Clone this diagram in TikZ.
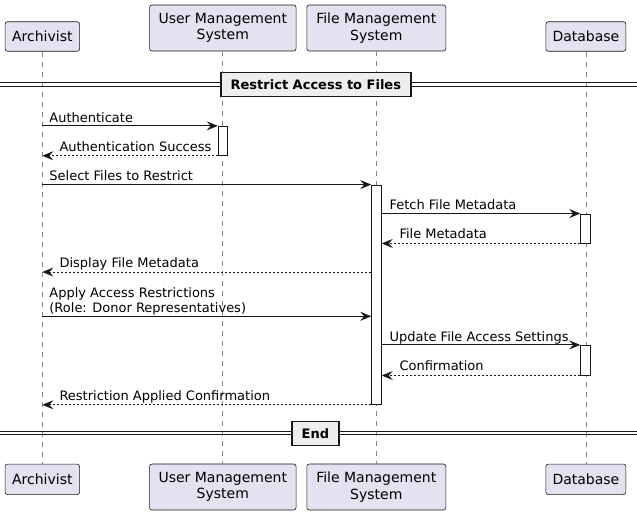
\documentclass[tikz,border=0pt]{standalone}
\usepackage{fontspec}
\setmainfont{DejaVu Sans}
\usetikzlibrary{arrows.meta}
\definecolor{partfill}{HTML}{E2E2F0}
\definecolor{partdraw}{HTML}{181818}
\definecolor{lifecol}{HTML}{858585}
\definecolor{divfill}{HTML}{EEEEEE}
\begin{document}
\begin{tikzpicture}[x=1pt,y=-1pt,
  font=\fontsize{13}{15}\selectfont,
  part/.style={draw=partdraw, fill=partfill, line width=0.6pt, rounded corners=2.5pt,
    align=center, inner sep=0pt, minimum height=29.5pt, font=\fontsize{14}{16.3}\selectfont},
  parttall/.style={part, minimum height=46pt},
  life/.style={draw=lifecol, line width=0.7pt, dash pattern=on 5pt off 5pt},
  actbox/.style={draw=partdraw, fill=white, line width=0.9pt, minimum width=9.6pt, inner sep=0pt},
  msg/.style={draw=partdraw, line width=0.9pt, -{Stealth[length=11pt, width=9pt, inset=4pt]}},
  ret/.style={msg, dash pattern=on 2pt off 2pt},
  lbl/.style={inner sep=0pt, anchor=base west, align=left},
  divline/.style={draw=partdraw, line width=0.9pt},
  divbox/.style={draw=partdraw, fill=divfill, line width=1.6pt, inner sep=0pt,
    font=\fontsize{13}{15}\selectfont\bfseries, minimum height=24pt}
]
\useasboundingbox (0,0) rectangle (637,515);

% participants (top)
\node[part, minimum width=74.5pt] (aT) at (42.3,36.5) {Archivist};
\node[parttall, minimum width=146.5pt] (uT) at (222.8,28) {User Management\\System};
\node[parttall, minimum width=139pt] (fT) at (376.3,28) {File Management\\System};
\node[part, minimum width=80pt] (dT) at (585.9,36.5) {Database};
% participants (bottom)
\node[part, minimum width=74.5pt, minimum height=30.5pt] (aB) at (42.3,479.3) {Archivist};
\node[parttall, minimum width=146.5pt] (uB) at (222.8,487) {User Management\\System};
\node[parttall, minimum width=139pt] (fB) at (376.3,487) {File Management\\System};
\node[part, minimum width=80pt, minimum height=30.5pt] (dB) at (585.9,479.3) {Database};

% lifelines
\draw[life] (aT.south) -- (aB.north);
\draw[life] (uT.south) -- (uB.north);
\draw[life] (fT.south) -- (fB.north);
\draw[life] (dT.south) -- (dB.north);

% dividers
\draw[divline] (0,82.7) -- (637,82.7);
\draw[divline] (0,86) -- (637,86);
\node[divbox, minimum width=189.7pt] (divR) at (315.85,84.3) {Restrict Access to Files};
\draw[divline] (0,431) -- (637,431);
\draw[divline] (0,434.3) -- (637,434.3);
\node[divbox, minimum width=46.7pt] (divE) at (315.35,433.3) {End};

% activations
\node[actbox, minimum height=29pt] (actU) at (223,140.8) {};
\node[actbox, minimum height=219.3pt] (actF) at (376.5,294.7) {};
\node[actbox, minimum height=29pt] (actD1) at (585.5,228.5) {};
\node[actbox, minimum height=29.7pt] (actD2) at (585.5,360.2) {};

% messages
\draw[msg] (aT.south |- actU.north west) -- (actU.north west);
\node[lbl] (l1) at (49.2,122) {Authenticate};

\draw[ret] (actU.south west) -- (aT.south |- actU.south west);
\node[lbl] (l2) at (59.3,151) {Authentication Success};

\draw[msg] (aT.south |- actF.north west) -- (actF.north west);
\node[lbl] (l3) at (49.2,180.7) {Select Files to Restrict};

\draw[msg] (actF.east |- actD1.north west) -- (actD1.north west);
\node[lbl] (l4) at (389.3,209.7) {Fetch File Metadata};

\draw[ret] (actD1.south west) -- (actF.east |- actD1.south west);
\node[lbl] (l5) at (399.3,238.7) {File Metadata};

\coordinate (m6) at (actF.west |- 0,272);
\draw[ret] (m6) -- (aT.south |- m6);
\node[lbl] (l6) at (59.3,267.7) {Display File Metadata};

\coordinate (m7) at (actF.west |- 0,316.3);
\draw[msg] (aT.south |- m7) -- (m7);
\node[lbl] (l7) at (49.2,312) {Apply Access Restrictions\\(Role: Donor Representatives)};

\draw[msg] (actF.east |- actD2.north west) -- (actD2.north west);
\node[lbl] (l8) at (389.3,341) {Update File Access Settings};

\draw[ret] (actD2.south west) -- (actF.east |- actD2.south west);
\node[lbl] (l9) at (399.3,370.7) {Confirmation};

\draw[ret] (actF.south west) -- (aT.south |- actF.south west);
\node[lbl] (l10) at (59.3,400) {Restriction Applied Confirmation};
\end{tikzpicture}
\end{document}
